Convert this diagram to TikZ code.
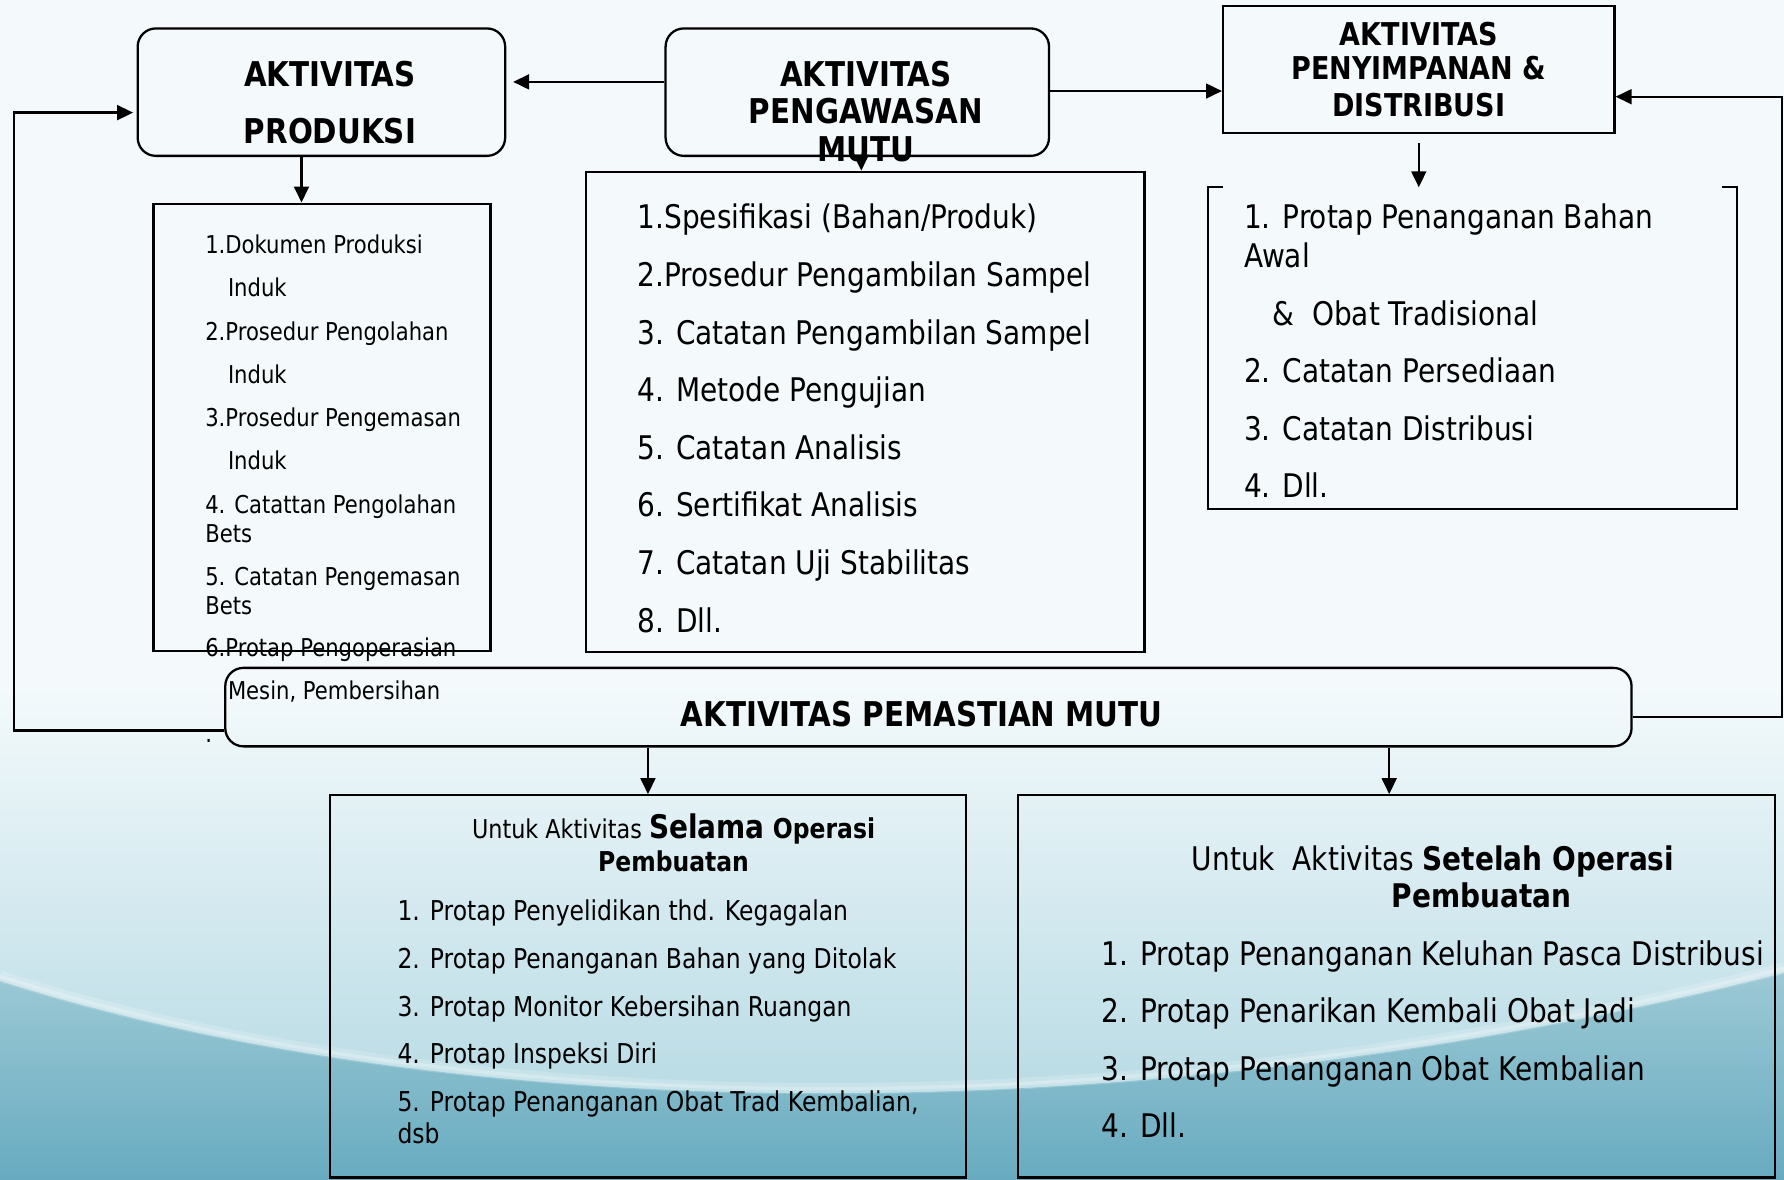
\documentclass[tikz,border=0pt]{standalone}
\usepackage{fontspec}
\setmainfont[FakeStretch=0.86]{DejaVu Sans}
\usetikzlibrary{arrows.meta}
\definecolor{bgtop}{HTML}{F4FAFC}
\definecolor{bgmid}{HTML}{ADD5E0}
\definecolor{bgdk1}{HTML}{9CC9D5}
\definecolor{bgdk2}{HTML}{68ABC0}
\newcommand{\fs}[1]{\fontsize{#1}{1.2\dimexpr#1\relax}\selectfont}
\begin{document}
\begin{tikzpicture}[x=0.5pt,y=-0.5pt,
  box/.style={draw, line width=1pt, inner sep=0pt},
  rbox/.style={box, rounded corners=8pt},
  conn/.style={line width=1pt},
  arr/.style={line width=1pt, -{Triangle[length=7pt,width=6.5pt]}},
  hd/.style={inner sep=0pt, font=\fs{15pt}\bfseries},
  hds/.style={inner sep=0pt, font=\fs{13.8pt}\bfseries},
  ls/.style={inner sep=0pt, anchor=base west, font=\fs{10.8pt}},
  lm/.style={inner sep=0pt, anchor=base west, font=\fs{14.3pt}},
  lb/.style={inner sep=0pt, anchor=base west, font=\fs{12pt}}
]
% background
\useasboundingbox (0,0) rectangle (1568,1037);
\fill[bgtop] (0,0) rectangle (1568,1037);
\shade[top color=bgtop, bottom color=bgmid] (0,600) rectangle (1568,1037);
\shade[top color=bgdk1, bottom color=bgdk2] (0,862) .. controls (400,990) and (1000,1000) .. (1568,855) -- (1568,1037) -- (0,1037) -- cycle;
\draw[white, opacity=0.18, line width=5pt] (0,858) .. controls (400,986) and (1000,996) .. (1568,851);
\draw[white, opacity=0.25, line width=1.5pt] (0,858) .. controls (400,986) and (1000,996) .. (1568,851);

% boxes
\node[rbox, minimum width=161.5pt, minimum height=56pt] (prod) at (282.5,81) {};
\node[rbox, minimum width=168.5pt, minimum height=56pt] (peng) at (753.5,81) {};
\node[box, minimum width=172pt, minimum height=56pt] (peny) at (1247,61) {};
\node[box, minimum width=148pt, minimum height=196.5pt] (prodlist) at (283,375.5) {};
\node[box, minimum width=245.5pt, minimum height=211pt] (penglist) at (760.5,362) {};
\node[inner sep=0pt, minimum width=232pt, minimum height=141pt] (penylist) at (1294,306) {};
\draw[conn] (penylist.north west) ++(13,0) -- (penylist.north west) -- (penylist.south west) -- (penylist.south east) -- (penylist.north east) -- ++(-13,0);
\node[rbox, minimum width=618pt, minimum height=34.5pt] (pem) at (816,621.5) {};
\node[box, minimum width=279.5pt, minimum height=168pt] (sel) at (569.5,867) {};
\node[box, minimum width=332.5pt, minimum height=168pt] (set) at (1227.5,867) {};

% headers
\node[hd] (prodh1) at (290,65) {AKTIVITAS};
\node[hd] (prodh2) at (290,115) {PRODUKSI};
\node[hd] (pengh1) at (761,65) {AKTIVITAS};
\node[hd] (pengh2) at (761,98) {PENGAWASAN};
\node[hd] (pengh3) at (761,131) {MUTU};
\node[hds] (penyh1) at (1247,30) {AKTIVITAS};
\node[hds] (penyh2) at (1247,60) {PENYIMPANAN \&};
\node[hds] (penyh3) at (1247,92) {DISTRIBUSI};
\node[hd] (pemh) at (810,628) {AKTIVITAS PEMASTIAN MUTU};

% connectors
\coordinate (t72) at (0,72);
\coordinate (t80) at (0,80);
\coordinate (c265) at (265,0);
\coordinate (c757) at (757,0);
\coordinate (c1247) at (1247,0);
\coordinate (c1221) at (1221,0);
\coordinate (lx) at (12,642);
\coordinate (ly) at (12,99);
\coordinate (rx) at (1566,630);
\coordinate (ry) at (1566,85);
\draw[arr, shorten >=3pt] (peng.west |- t72) -- (prod.east |- t72);
\draw[arr] (peng.east |- t80) -- (peny.west |- t80);
\draw[arr] (prod.south -| c265) -- (prodlist.north -| c265);
\draw[arr] (peng.south -| c757) -- (penglist.north -| c757);
\draw[arr, shorten <=4pt] (peny.south -| c1247) -- (penylist.north -| c1247);
\draw[arr, shorten >=1.5pt] (pem.west |- lx) -- (lx) -- (ly) -- (prod.west |- ly);
\draw[arr] (pem.east |- rx) -- (rx) -- (ry) -- (peny.east |- ry);
\draw[arr] (pem.south -| sel.north) -- (sel.north);
\draw[arr] (pem.south -| c1221) -- (set.north -| c1221);

% produksi list
\node[ls] (pl1) at (180,223) {1.Dokumen Produksi};
\node[ls] (pl2) at (200,261) {Induk};
\node[ls] (pl3) at (180,299) {2.Prosedur Pengolahan};
\node[ls] (pl4) at (200,337) {Induk};
\node[ls] (pl5) at (180,375) {3.Prosedur Pengemasan};
\node[ls] (pl6) at (200,413) {Induk};
\node[ls] (pl7) at (180,451) {4. Catattan Pengolahan};
\node[ls] (pl8) at (180,477) {Bets};
\node[ls] (pl9) at (180,515) {5. Catatan Pengemasan};
\node[ls] (pl10) at (180,540) {Bets};
\node[ls] (pl11) at (180,577) {6.Protap Pengoperasian};
\node[ls] (pl12) at (200,615) {Mesin, Pembersihan};
\node[ls] (pl13) at (180,653) {.};

% pengawasan list
\node[lm] (gl1) at (560,201) {1.Spesifikasi (Bahan/Produk)};
\node[lm] (gl2) at (560,252) {2.Prosedur Pengambilan Sampel};
\node[lm] (gl3) at (560,303) {3. Catatan Pengambilan Sampel};
\node[lm] (gl4) at (560,353) {4. Metode Pengujian};
\node[lm] (gl5) at (560,404) {5. Catatan Analisis};
\node[lm] (gl6) at (560,454) {6. Sertifikat Analisis};
\node[lm] (gl7) at (560,505) {7. Catatan Uji Stabilitas};
\node[lm] (gl8) at (560,556) {8. Dll.};

% penyimpanan list
\node[lm] (yl1) at (1093,201) {1. Protap Penanganan Bahan};
\node[lm] (yl2) at (1093,235) {Awal};
\node[lm] (yl3) at (1118,286) {\&\ \ Obat Tradisional};
\node[lm] (yl4) at (1093,336) {2. Catatan Persediaan};
\node[lm] (yl5) at (1093,387) {3. Catatan Distribusi};
\node[lm] (yl6) at (1093,437) {4. Dll.};

% selama
\node[inner sep=0pt, anchor=base] (selh1) at (592,737) {{\fs{11.4pt}Untuk Aktivitas }{\fs{14.3pt}\bfseries Selama}{\fs{12pt}\bfseries\ Operasi}};
\node[inner sep=0pt, anchor=base, font=\fs{12pt}\bfseries] (selh2) at (592,766) {Pembuatan};
\node[lb] (sl1) at (349,809) {1. Protap Penyelidikan thd. Kegagalan};
\node[lb] (sl2) at (349,851) {2. Protap Penanganan Bahan yang Ditolak};
\node[lb] (sl3) at (349,893) {3. Protap Monitor Kebersihan Ruangan};
\node[lb] (sl4) at (349,935) {4. Protap Inspeksi Diri};
\node[lb] (sl5) at (349,977) {5. Protap Penanganan Obat Trad Kembalian,};
\node[lb] (sl6) at (349,1005) {dsb};

% setelah
\node[inner sep=0pt, anchor=base, font=\fs{14.3pt}] (seth1) at (1259.5,765) {Untuk\ \ Aktivitas \textbf{Setelah Operasi}};
\node[inner sep=0pt, anchor=base, font=\fs{14.3pt}\bfseries] (seth2) at (1302,798) {Pembuatan};
\node[lm] (tl1) at (968,849) {1. Protap Penanganan Keluhan Pasca Distribusi};
\node[lm] (tl2) at (968,899) {2. Protap Penarikan Kembali Obat Jadi};
\node[lm] (tl3) at (968,950) {3. Protap Penanganan Obat Kembalian};
\node[lm] (tl4) at (968,1000) {4. Dll.};
\end{tikzpicture}
\end{document}
